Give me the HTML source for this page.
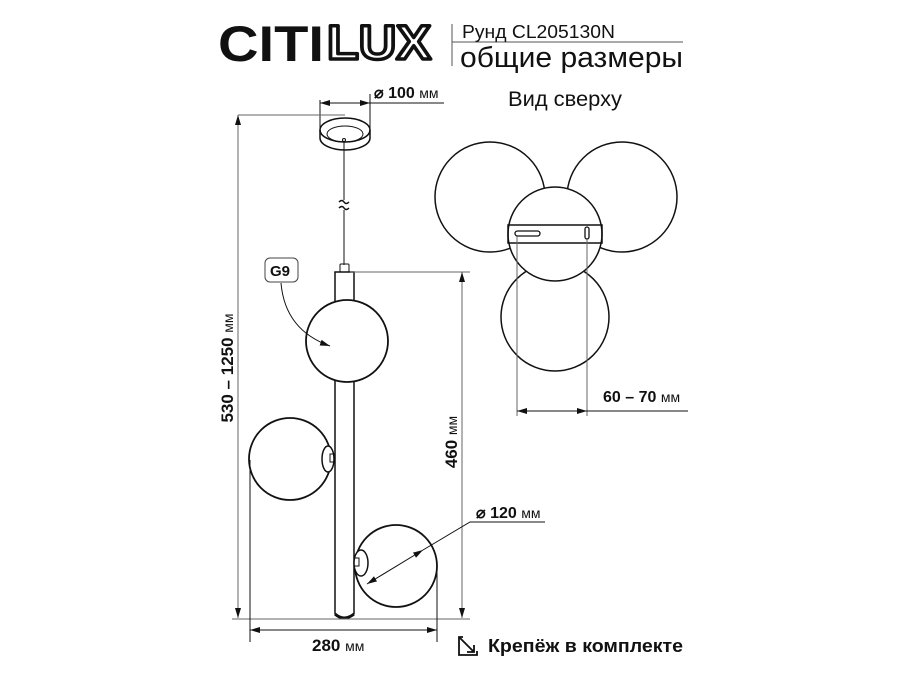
<!DOCTYPE html>
<html><head><meta charset="utf-8"><style>
body{margin:0;background:#fff}
svg{display:block}
text{font-family:"Liberation Sans",sans-serif;fill:#111}
</style></head><body>
<svg width="900" height="675" viewBox="0 0 900 675" xmlns="http://www.w3.org/2000/svg">
<defs>
<marker id="a" viewBox="0 0 10 6" refX="10" refY="3" markerWidth="10" markerHeight="6" orient="auto-start-reverse" markerUnits="userSpaceOnUse"><path d="M0,0L10,3L0,6z" fill="#111"/></marker>
</defs>
<!-- header -->
<text x="218" y="61" font-size="50" font-weight="bold" textLength="106" lengthAdjust="spacingAndGlyphs">CITI</text>
<text x="327" y="59" font-size="48" font-weight="bold" stroke="#111" stroke-width="3.5" stroke-linejoin="round" textLength="104" lengthAdjust="spacingAndGlyphs" style="fill:#fff">LUX</text>
<line x1="452" y1="24" x2="452" y2="66" stroke="#555" stroke-width="1"/>
<line x1="452" y1="42" x2="683" y2="42" stroke="#555" stroke-width="1"/>
<text x="462" y="38" font-size="18" textLength="153" lengthAdjust="spacingAndGlyphs">Рунд CL205130N</text>
<text x="460" y="67" font-size="29" textLength="223" lengthAdjust="spacingAndGlyphs">общие размеры</text>
<text x="508" y="106" font-size="21" textLength="114" lengthAdjust="spacingAndGlyphs">Вид сверху</text>

<g fill="none" stroke="#111" stroke-width="1">
<!-- canopy -->
<line x1="320" y1="100" x2="320" y2="130"/><line x1="370" y1="94" x2="370" y2="130"/>
<line x1="320" y1="103" x2="370" y2="103" marker-start="url(#a)" marker-end="url(#a)"/>
<line x1="370" y1="103" x2="444" y2="103"/>
<path d="M320,130 V138 A25,12 0 0 0 370,138 V130" stroke-width="1.5"/>
<ellipse cx="345" cy="130" rx="25" ry="12" stroke-width="1.5"/>
<ellipse cx="345" cy="134" rx="18" ry="8"/>
<circle cx="344" cy="140" r="1.5"/>
<line x1="344" y1="142" x2="344" y2="200"/><line x1="344" y1="210" x2="344" y2="265"/>
<path d="M339,202 q3,-3 5,0 t5,0 M339,208 q3,-3 5,0 t5,0" stroke-width="1.5"/>
<!-- pole -->
<rect x="340" y="264" width="9" height="8" rx="1"/>
<rect x="335" y="272" width="19" height="30" stroke-width="1.5"/>
<path d="M335,380 V614 M354,380 V614" stroke-width="1.5"/>
<path d="M335,614 Q344,622 354,614" stroke-width="3"/>
<circle cx="347" cy="341" r="41" stroke-width="1.8" fill="#fff"/>
<circle cx="290" cy="459" r="41" stroke-width="1.8" fill="#fff"/>
<ellipse cx="328" cy="459" rx="6" ry="13" stroke-width="1.5" fill="#fff"/>
<rect x="330" y="454" width="5" height="8"/>
<circle cx="396" cy="566" r="41" stroke-width="1.8" fill="#fff"/>
<ellipse cx="361" cy="563" rx="7" ry="13" stroke-width="1.5" fill="#fff"/>
<rect x="354" y="558" width="5" height="8"/>
<!-- G9 -->
<rect x="265" y="258" width="33" height="24" rx="5" stroke="#444"/>
<path d="M281,283 Q285,330 330,346" marker-end="url(#a)"/>
<!-- vertical dims -->
<line x1="238" y1="115" x2="345" y2="115" stroke="#666"/>
<line x1="238" y1="115" x2="238" y2="618" stroke="#666" marker-start="url(#a)" marker-end="url(#a)"/>
<line x1="232" y1="619" x2="470" y2="619" stroke="#666"/>
<line x1="350" y1="272" x2="470" y2="272" stroke="#666"/>
<line x1="462" y1="272" x2="462" y2="618" stroke="#666" marker-start="url(#a)" marker-end="url(#a)"/>
<!-- 280 -->
<line x1="250" y1="460" x2="250" y2="642"/><line x1="437" y1="567" x2="437" y2="642"/>
<line x1="250" y1="630" x2="437" y2="630" marker-start="url(#a)" marker-end="url(#a)"/>
<!-- 120 -->
<path d="M545,522 H470 L423,550"/>
<line x1="423" y1="550" x2="367" y2="584" marker-start="url(#a)" marker-end="url(#a)"/>
<!-- top view -->
<circle cx="490" cy="197" r="55" stroke-width="1.5"/>
<circle cx="622" cy="197" r="55" stroke-width="1.5"/>
<circle cx="555" cy="317" r="54" stroke-width="1.5"/>
<circle cx="555" cy="234" r="47" fill="#fff" stroke-width="1.5"/>
<rect x="508" y="225" width="94" height="18" stroke-width="1.5"/>
<rect x="515" y="231" width="25" height="5" rx="2.5" stroke-width="1.3"/>
<rect x="585" y="227" width="4" height="12" rx="2" stroke-width="1.3"/>
<line x1="517" y1="236" x2="517" y2="416" stroke="#666"/><line x1="587" y1="239" x2="587" y2="416" stroke="#666"/>
<line x1="517" y1="411" x2="587" y2="411" marker-start="url(#a)" marker-end="url(#a)"/>
<line x1="587" y1="411" x2="688" y2="411"/>
<!-- icon -->
<path d="M463,637 H459 V655 H477 V651" stroke-width="1.8"/>
<path d="M460,638 L474,652 M474,645 V652 H467" stroke-width="1.8"/>
</g>
<text font-size="17" font-weight="bold" transform="translate(233,368) rotate(-90)" text-anchor="middle">530 – 1250 <tspan font-weight="normal" font-size="14">мм</tspan></text>
<text font-size="17" font-weight="bold" transform="translate(457,442) rotate(-90)" text-anchor="middle">460 <tspan font-weight="normal" font-size="14">мм</tspan></text>
<text x="374" y="98" font-size="16" font-weight="bold">⌀ 100 <tspan font-weight="normal" font-size="14">мм</tspan></text>
<text x="312" y="651" font-size="17" font-weight="bold">280 <tspan font-weight="normal" font-size="14">мм</tspan></text>
<text x="476" y="518" font-size="16" font-weight="bold">⌀ 120 <tspan font-weight="normal" font-size="14">мм</tspan></text>
<text x="603" y="402" font-size="16" font-weight="bold">60 – 70 <tspan font-weight="normal" font-size="14">мм</tspan></text>
<text x="270" y="276" font-size="15" font-weight="bold">G9</text>
<text x="488" y="652" font-size="18" font-weight="bold" textLength="195" lengthAdjust="spacingAndGlyphs">Крепёж в комплекте</text>
</svg>
</body></html>
